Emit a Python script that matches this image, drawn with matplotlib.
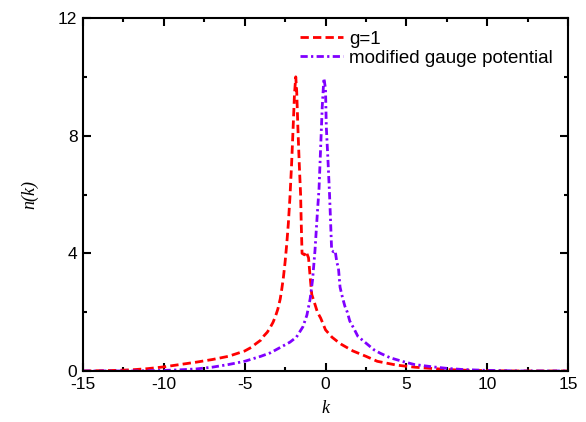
import matplotlib
matplotlib.use("Agg")
import matplotlib.pyplot as plt
from matplotlib.ticker import MultipleLocator

plt.rcParams['font.family'] = ['Liberation Sans', 'DejaVu Sans']
plt.rcParams['axes.unicode_minus'] = False

k_g1 = [-15, -13, -12, -11, -10, -9, -8, -7, -6, -5, -4.6, -4.3, -4.0, -3.8, -3.6, -3.45,
        -3.25, -3.1, -2.95, -2.8, -2.7, -2.6, -2.5, -2.4, -2.3, -2.2, -2.1, -2.0, -1.92,
        -1.84, -1.78, -1.71, -1.62, -1.54, -1.5, -1.45, -1.3, -1.2, -1.05, -0.95, -0.85,
        -0.7, -0.5, -0.3, 0.0, 0.4, 0.7, 1.0, 1.7, 2.5, 3.2, 4.4, 5.5, 6.5, 7.5, 8.5, 10, 12, 15]
n_g1 = [0.0, 0.02, 0.04, 0.08, 0.14, 0.22, 0.3, 0.39, 0.5, 0.68, 0.8, 0.93, 1.05, 1.2, 1.32, 1.45,
        1.65, 1.85, 2.1, 2.45, 2.8, 3.2, 3.7, 4.3, 5.0, 5.9, 7.0, 8.3, 9.4,
        10.0, 9.5, 8.3, 7.0, 6.0, 5.0, 4.0, 3.95, 4.06, 3.85, 3.2, 2.6,
        2.35, 2.0, 1.8, 1.4, 1.15, 1.02, 0.9, 0.68, 0.5, 0.33, 0.2, 0.13, 0.09, 0.05, 0.03, 0.01, 0.0, 0.0]

k_mod = [-15, -12, -10, -9, -8, -7, -6, -5, -4, -3.4, -2.8, -2.2, -1.8, -1.4, -1.15,
         -0.95, -0.8, -0.65, -0.5, -0.4, -0.3, -0.2, -0.1, 0.0, 0.05, 0.15, 0.25, 0.32,
         0.38, 0.5, 0.6, 0.7, 0.8, 0.9, 1.05, 1.2, 1.35, 1.5, 1.75, 2.0, 2.5, 3.0, 3.4,
         4.0, 4.8, 5.5, 6.5, 7.5, 8.5, 10, 12, 15]
n_mod = [0.0, 0.0, 0.02, 0.04, 0.07, 0.13, 0.22, 0.33, 0.5, 0.62, 0.8, 0.98, 1.15, 1.5, 1.9,
         2.45, 3.1, 4.1, 5.4, 6.2, 7.6, 9.0, 9.95, 9.6, 8.3, 7.2, 6.0, 5.0,
         4.1, 4.05, 4.08, 3.7, 3.5, 2.85, 2.5, 2.2, 2.0, 1.7, 1.45, 1.18, 0.95, 0.72, 0.6,
         0.45, 0.32, 0.22, 0.15, 0.09, 0.05, 0.02, 0.0, 0.0]

labels = ['g=1', 'modified gauge potential']
colors = ['#FF0000', '#8000FF']

fig = plt.figure(figsize=(5.86, 4.22), dpi=100)
ax = fig.add_axes([83/586, 1-371/422, (568-83)/586, (371-18)/422])

ax.plot(k_g1, n_g1, color=colors[0], lw=2.0, linestyle=(0, (3, 1.5)), label=labels[0])
ax.plot(k_mod, n_mod, color=colors[1], lw=2.0, linestyle=(0, (2.6, 1.2, 0.8, 1.2)), label=labels[1])

ax.set_xlim(-15, 15)
ax.set_ylim(0, 12)
ax.xaxis.set_major_locator(MultipleLocator(5))
ax.xaxis.set_minor_locator(MultipleLocator(2.5))
ax.yaxis.set_major_locator(MultipleLocator(4))
ax.yaxis.set_minor_locator(MultipleLocator(2))
ax.tick_params(which='both', direction='in', top=True, right=True, width=1.5,
               labelsize=12.5, labeltop=False, labelright=False)
ax.tick_params(which='major', length=6, pad=4)
ax.tick_params(which='minor', length=3)
for s in ax.spines.values():
    s.set_linewidth(1.5)

ax.set_xlabel('k', fontsize=13, family='Liberation Serif', style='italic', labelpad=6)
ax.set_ylabel('n(k)', fontsize=13, family='Liberation Serif', style='italic', labelpad=14)

leg = ax.legend(loc='upper right', frameon=False, fontsize=13.5, handlelength=2.3,
                handletextpad=0.35, labelspacing=0.08, borderaxespad=0.0,
                bbox_to_anchor=(0.985, 0.985))

fig.savefig('out.png', dpi=100)
